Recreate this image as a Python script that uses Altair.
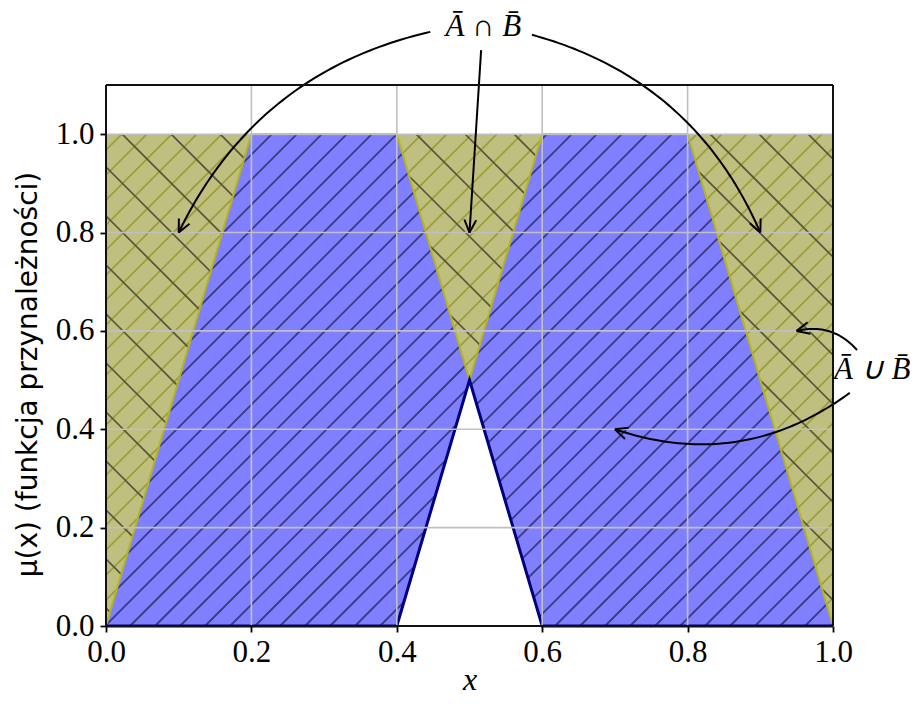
import altair as alt
import numpy as np
import pandas as pd

# ---------------- data ----------------
x_pts = [0.0, 0.2, 0.4, 0.5, 0.6, 0.8, 1.0]
mu_A_bar = [0.0, 1.0, 1.0, 0.5, 0.0, 0.0, 0.0]
mu_B_bar = [0.0, 0.0, 0.0, 0.5, 1.0, 1.0, 0.0]
top_level = [1.0] * len(x_pts)

x_ticks = [0.0, 0.2, 0.4, 0.6, 0.8, 1.0]
y_ticks = [0.0, 0.2, 0.4, 0.6, 0.8, 1.0]
x_domain = [0.0, 1.0]
y_domain = [0.0, 1.1]

label_texts = ["Ā ∩ B̄", "Ā ∪ B̄"]
label_x = [0.519, 1.054]
label_y = [1.218, 0.52]

arrow_from_x = [0.446, 0.516, 0.586, 1.033, 1.023]
arrow_from_y = [1.208, 1.171, 1.202, 0.561, 0.474]
arrow_to_x = [0.1, 0.5, 0.9, 0.95, 0.7]
arrow_to_y = [0.8, 0.8, 0.8, 0.6, 0.4]
arrow_rad = [0.24, 0.0, -0.24, 0.3, -0.26]

# ---------------- geometry helpers ----------------
W, H = 727, 541
OFF_X, OFF_Y = 106, 85  # plot origin on the page (hatch anchoring)

def to_px(x, y):
    return (x - x_domain[0]) / (x_domain[1] - x_domain[0]) * W, H - (y - y_domain[0]) / (y_domain[1] - y_domain[0]) * H

def to_data(px, py):
    return x_domain[0] + px / W * (x_domain[1] - x_domain[0]), y_domain[0] + (H - py) / H * (y_domain[1] - y_domain[0])

upper = np.maximum(mu_A_bar, mu_B_bar)
lower = np.minimum(mu_A_bar, mu_B_bar)

def band_polys(lo, hi):
    polys = []
    for i in range(len(x_pts) - 1):
        pts = [(x_pts[i], lo[i]), (x_pts[i + 1], lo[i + 1]), (x_pts[i + 1], hi[i + 1]), (x_pts[i], hi[i])]
        area = (hi[i] - lo[i]) + (hi[i + 1] - lo[i + 1])
        if area > 1e-9:
            polys.append([to_px(*p) for p in pts])
    return polys

def hatch(polys, nvec, spacing, phase, tag):
    rows = []
    n = np.array(nvec, float)
    n = n / np.linalg.norm(n)
    u = np.array([-n[1], n[0]])
    sid = 0
    for poly in polys:
        P = [np.array(p) for p in poly]
        v = [float(n @ (p + np.array([OFF_X, OFF_Y]))) for p in P]
        kmin = int(np.ceil((min(v) - phase) / spacing))
        kmax = int(np.floor((max(v) - phase) / spacing))
        for k in range(kmin, kmax + 1):
            c = phase + k * spacing
            pts = []
            for i in range(len(P)):
                j = (i + 1) % len(P)
                a, b = v[i] - c, v[j] - c
                if abs(v[j] - v[i]) < 1e-12:
                    continue
                if a * b <= 0:
                    t = (c - v[i]) / (v[j] - v[i])
                    pts.append(P[i] + t * (P[j] - P[i]))
            if len(pts) < 2:
                continue
            proj = [float(u @ p) for p in pts]
            p1, p2 = pts[int(np.argmin(proj))], pts[int(np.argmax(proj))]
            if np.linalg.norm(p2 - p1) < 0.5:
                continue
            for p in (p1, p2):
                dx, dy = to_data(p[0], p[1])
                rows.append({"x": dx, "y": dy, "seg": f"{tag}{sid}"})
            sid += 1
    return pd.DataFrame(rows)

blue_polys = band_polys(lower, upper)
olive_polys = band_polys(upper, top_level)

blue_hatch = hatch(blue_polys, (1, 1), 25.0 / np.sqrt(2), 6.0 / np.sqrt(2), "b")
olive_hatch1 = hatch(olive_polys, (1, 1), 25.0 / np.sqrt(2), 6.0 / np.sqrt(2), "o")
olive_hatch2 = hatch(olive_polys, (1, -1), 49.0 / np.sqrt(2), 37.0 / np.sqrt(2), "d")

# arrows (quadratic bezier like matplotlib arc3)
arrow_rows = []
for a in range(len(arrow_to_x)):
    sx, sy = to_px(arrow_from_x[a], arrow_from_y[a])
    ex, ey = to_px(arrow_to_x[a], arrow_to_y[a])
    sy, ey = H - sy, H - ey  # y-up
    mx, my = (sx + ex) / 2, (sy + ey) / 2
    dx, dy = ex - sx, ey - sy
    cx, cy = mx + arrow_rad[a] * dy, my - arrow_rad[a] * dx
    for i, t in enumerate(np.linspace(0, 1, 60)):
        bx = (1 - t) ** 2 * sx + 2 * (1 - t) * t * cx + t ** 2 * ex
        by = (1 - t) ** 2 * sy + 2 * (1 - t) * t * cy + t ** 2 * ey
        X, Y = to_data(bx, H - by)
        arrow_rows.append({"x": X, "y": Y, "seg": f"a{a}", "o": i})
    tx, ty = ex - cx, ey - cy
    L = np.hypot(tx, ty)
    tx, ty = tx / L, ty / L
    for side, sgn in (("l", 1), ("r", -1)):
        ang = np.deg2rad(25) * sgn
        rx = tx * np.cos(ang) - ty * np.sin(ang)
        ry = tx * np.sin(ang) + ty * np.cos(ang)
        hx, hy = ex - 14 * rx, ey - 14 * ry
        X1, Y1 = to_data(hx, H - hy)
        X2, Y2 = to_data(ex, H - ey)
        arrow_rows.append({"x": X1, "y": Y1, "seg": f"h{a}{side}", "o": 0})
        arrow_rows.append({"x": X2, "y": Y2, "seg": f"h{a}{side}", "o": 1})
arrows = pd.DataFrame(arrow_rows)

curves = pd.DataFrame({"x": x_pts, "upper": upper, "lower": lower, "top": top_level})
labels = pd.DataFrame({"x": label_x, "y": label_y, "t": label_texts})

xs = alt.Scale(domain=x_domain, nice=False, zero=False)
ys = alt.Scale(domain=y_domain, nice=False, zero=False)

FONT_SERIF = "Liberation Serif"

x_axis = alt.Axis(values=x_ticks, format=".1f", grid=False, domain=False, tickSize=6, tickWidth=1.8,
                  tickColor="black", labelFont=FONT_SERIF, labelFontSize=31, labelColor="black",
                  labelPadding=5, labelFlush=False, labelOverlap=False,
                  title="x", titleFont=FONT_SERIF, titleFontStyle="italic",
                  titleFontWeight="normal", titleFontSize=32, titleColor="black",
                  titleY=63, titleBaseline="alphabetic")
y_axis = alt.Axis(values=y_ticks, format=".1f", grid=False, domain=False, tickSize=6, tickWidth=1.8,
                  tickColor="black", labelFont=FONT_SERIF, labelFontSize=31, labelColor="black",
                  labelPadding=6, labelFlush=False, labelOverlap=False,
                  title="μ(x) (funkcja przynależności)", titleFont="DejaVu Sans",
                  titleFontWeight="normal", titleFontSize=28, titleColor="black",
                  titleX=-78, titleY=289, titleBaseline="middle", titleAngle=270)

base = alt.Chart(curves)

olive_fill = base.mark_area(color="#bfbf80", opacity=1).encode(
    x=alt.X("x:Q", scale=xs, axis=x_axis), y=alt.Y("top:Q", scale=ys, axis=y_axis), y2="upper:Q")
blue_fill = base.mark_area(color="#8080ff", opacity=1).encode(
    x=alt.X("x:Q", scale=xs), y=alt.Y("upper:Q", scale=ys), y2="lower:Q")

def hatch_layer(df, color, width):
    return alt.Chart(df).mark_line(color=color, strokeWidth=width, strokeCap="butt").encode(
        x=alt.X("x:Q", scale=xs), y=alt.Y("y:Q", scale=ys), detail="seg:N")

h_blue = hatch_layer(blue_hatch, "#3a3a80", 1.8)
h_olive1 = hatch_layer(olive_hatch1, "#9c9c38", 1.7)
h_olive2 = hatch_layer(olive_hatch2, "#55553a", 1.7)

upper_line = base.mark_line(color="#b4b41c", strokeWidth=2).encode(
    x=alt.X("x:Q", scale=xs), y=alt.Y("upper:Q", scale=ys))
lower_line = base.mark_line(color="#000080", strokeWidth=3).encode(
    x=alt.X("x:Q", scale=xs), y=alt.Y("lower:Q", scale=ys))

grid_x = alt.Chart(pd.DataFrame({"v": x_ticks})).mark_rule(color="#c0c0c0", strokeWidth=1.6).encode(
    x=alt.X("v:Q", scale=xs))
grid_y = alt.Chart(pd.DataFrame({"v": y_ticks})).mark_rule(color="#c0c0c0", strokeWidth=1.6).encode(
    y=alt.Y("v:Q", scale=ys))

frame_df = pd.DataFrame({
    "x": [x_domain[0], x_domain[0], x_domain[0], x_domain[1]],
    "x2": [x_domain[1], x_domain[1], x_domain[0], x_domain[1]],
    "y": [y_domain[0], y_domain[1], y_domain[0], y_domain[0]],
    "y2": [y_domain[0], y_domain[1], y_domain[1], y_domain[1]],
})
frame = alt.Chart(frame_df).mark_rule(color="#111111", strokeWidth=2).encode(
    x=alt.X("x:Q", scale=xs), x2="x2:Q", y=alt.Y("y:Q", scale=ys), y2="y2:Q")

arrow_layer = alt.Chart(arrows).mark_line(color="black", strokeWidth=2, clip=False).encode(
    x=alt.X("x:Q", scale=xs), y=alt.Y("y:Q", scale=ys), detail="seg:N", order="o:Q")

text_layer = alt.Chart(labels).mark_text(font=FONT_SERIF, fontStyle="italic", fontSize=31,
                                         color="black", align="center", baseline="middle").encode(
    x=alt.X("x:Q", scale=xs), y=alt.Y("y:Q", scale=ys), text="t:N")

chart = alt.layer(olive_fill, blue_fill, h_olive1, h_olive2, h_blue, upper_line, lower_line,
                  grid_x, grid_y, arrow_layer, frame, text_layer).properties(
    width=W, height=H,
    autosize=alt.AutoSizeParams(type="none"),
    padding={"left": 98, "top": 77, "right": 77, "bottom": 70},
).configure_view(stroke=None)

chart.save("out.html", embed_options={"renderer": "svg", "actions": False})
